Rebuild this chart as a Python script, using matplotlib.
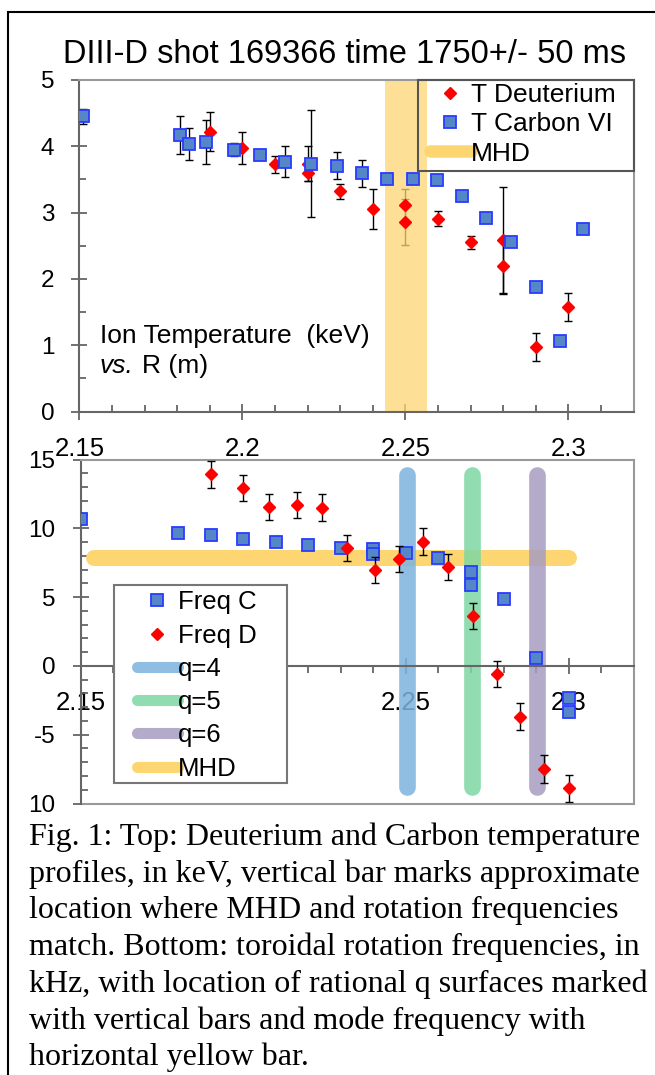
import matplotlib.pyplot as plt
from matplotlib.lines import Line2D
from matplotlib.patches import Rectangle
from matplotlib.ticker import FixedLocator, FixedFormatter

plt.rcParams['font.family'] = ['Liberation Sans', 'DejaVu Sans']

# ---- top panel: ion temperature (keV) vs R (m)
td_r = [2.19, 2.20, 2.21, 2.22, 2.22, 2.23, 2.24, 2.25, 2.25, 2.26, 2.27, 2.28, 2.28, 2.29, 2.30]
td_t = [4.22, 3.98, 3.73, 3.74, 3.59, 3.32, 3.05, 3.11, 2.86, 2.91, 2.55, 2.59, 2.19, 0.97, 1.57]
td_err = [0.29, 0.24, 0.13, 0.26, 0.12, 0.11, 0.30, 0.24, 0.35, 0.11, 0.10, 0.80, 0.42, 0.21, 0.21]

tc_r = [2.151, 2.181, 2.1836, 2.1888, 2.1974, 2.2054, 2.2131, 2.2211, 2.229, 2.2367,
        2.2445, 2.2522, 2.2597, 2.2673, 2.2747, 2.2823, 2.29, 2.2974, 2.3045]
tc_t = [4.45, 4.17, 4.04, 4.07, 3.95, 3.87, 3.77, 3.74, 3.71, 3.59,
        3.51, 3.51, 3.49, 3.25, 2.92, 2.55, 1.88, 1.06, 2.76]
tc_err = [0.12, 0.29, 0.24, 0.33, 0.10, 0.07, 0.24, 0.81, 0.20, 0.20,
          0, 0, 0, 0, 0, 0, 0, 0, 0]

mhd_r = [2.2438, 2.2566]

# ---- bottom panel: rotation frequency (kHz) vs R (m)
fc_r = [2.15, 2.18, 2.19, 2.20, 2.21, 2.22, 2.23, 2.24, 2.24, 2.25, 2.26, 2.27, 2.27, 2.28, 2.29, 2.30, 2.30]
fc_f = [10.67, 9.7, 9.55, 9.24, 9.0, 8.8, 8.56, 8.48, 8.14, 8.19, 7.83, 6.83, 5.86, 4.85, 0.56, -2.35, -3.32]

fd_r = [2.19, 2.20, 2.208, 2.2166, 2.2243, 2.232, 2.2404, 2.2478, 2.2552, 2.263, 2.2706, 2.278, 2.285, 2.2925, 2.30]
fd_f = [13.94, 12.97, 11.59, 11.71, 11.52, 8.56, 6.98, 7.78, 9.05, 7.22, 3.64, -0.61, -3.68, -7.49, -8.9]
fd_err = [1.0, 0.95, 0.95, 0.95, 0.95, 0.95, 0.95, 0.95, 0.95, 0.95, 0.95, 0.95, 1.0, 1.0, 1.0]

q_labels = ['q=4', 'q=5', 'q=6']
q_r = [2.2504, 2.2704, 2.2902]
q_span = [-8.8, 13.9]
q_colors = ['#7db3dd', '#7ed6a3', '#a79dc2']

mhd_f = 7.85
mhd_span = [2.154, 2.300]
mhd_color = '#fdd672'

x_major = [2.15, 2.2, 2.25, 2.3]
x_labels = ['2.15', '2.2', '2.25', '2.3']
x_minor = [2.16, 2.17, 2.18, 2.19, 2.21, 2.22, 2.23, 2.24, 2.26, 2.27, 2.28, 2.29, 2.31, 2.32]
f_ticks = [-10, -5, 0, 5, 10, 15]
f_labels = ['10', '-5', '0', '5', '10', '15']

caption = [
    "Fig. 1: Top: Deuterium and Carbon temperature",
    "profiles, in keV, vertical bar marks approximate",
    "location where MHD and rotation frequencies",
    "match. Bottom: toroidal rotation frequencies, in",
    "kHz, with location of rational q surfaces marked",
    "with vertical bars and mode frequency with",
    "horizontal yellow bar.",
]

W, H = 655, 1075
fig = plt.figure(figsize=(W / 100, H / 100), dpi=100)


def px_box(l, t, r, b):
    return [l / W, 1 - b / H, (r - l) / W, (b - t) / H]


sq_style = dict(marker='s', ms=8, mfc='#5587c8', mec='#2a3cff', mew=1.3, ls='none')
dm_style = dict(marker='D', ms=6.5, mfc='red', mec='red', ls='none')

# ================= top =================
ax1 = fig.add_axes(px_box(79.4, 80, 633.5, 411.5))
ax1.axvspan(mhd_r[0], mhd_r[1], color=mhd_color, alpha=0.75, lw=0, zorder=1.6)
ax1.errorbar(td_r, td_t, yerr=td_err, fmt='none', ecolor='black', elinewidth=1, capsize=3, zorder=1.2)
ax1.errorbar(tc_r, tc_t, yerr=tc_err, fmt='none', ecolor='black', elinewidth=1, capsize=3, zorder=1.2)
ax1.plot(td_r, td_t, zorder=3, **dm_style)
ax1.plot(tc_r, tc_t, zorder=3.5, **sq_style)

ax1.set_xlim(2.15, 2.32)
ax1.set_ylim(0, 5)
ax1.xaxis.set_major_locator(FixedLocator(x_major))
ax1.xaxis.set_major_formatter(FixedFormatter(x_labels))
ax1.xaxis.set_minor_locator(FixedLocator(x_minor))
ax1.yaxis.set_major_locator(FixedLocator([0, 1, 2, 3, 4, 5]))
ax1.yaxis.set_minor_locator(FixedLocator([0.5, 1.5, 2.5, 3.5, 4.5]))
ax1.tick_params(which='major', direction='inout', length=12, width=1.3, color='#666666', pad=12)
ax1.tick_params(axis='x', labelsize=18.5)
ax1.tick_params(axis='y', labelsize=17.5)
ax1.tick_params(which='minor', direction='in', length=5, width=1.3, color='#666666')
for side, sp in ax1.spines.items():
    sp.set_linewidth(1.5)
    sp.set_color('#666666' if side in ('left', 'bottom') else '#999999')

# top legend: own box (no fill, the MHD band shows through), entries placed inside it
ax1.add_patch(Rectangle(((418 - 79.4) / 554.1, (411.5 - 171) / 331.5), (633.5 - 418) / 554.1,
                        91 / 331.5, transform=ax1.transAxes, facecolor='none',
                        edgecolor='#555555', lw=1.5, zorder=5, clip_on=False))
leg1_handles = [
    Line2D([], [], **dm_style),
    Line2D([], [], **sq_style),
    Line2D([], [], color=mhd_color, lw=9, solid_capstyle='round'),
]
leg1 = ax1.legend(leg1_handles, ['T Deuterium', 'T Carbon VI', 'MHD'],
                  loc='upper left', bbox_to_anchor=((430 - 79.4) / 554.1, (411.5 - 83) / 331.5),
                  borderaxespad=0, borderpad=0, frameon=False, fontsize=19,
                  handlelength=1.55, handletextpad=0.0, labelspacing=0.2)
leg1.set_zorder(6)

fig.text(100 / W, 1 - 343 / H, 'Ion Temperature  (keV)', fontsize=19, va='baseline')
fig.text(100 / W, 1 - 373 / H, 'vs.', fontsize=19, style='italic', va='baseline')
fig.text(142 / W, 1 - 373 / H, 'R (m)', fontsize=19, va='baseline')

fig.text(0.526, 1 - 63 / H, 'DIII-D shot 169366 time 1750+/- 50 ms', fontsize=23.5,
         ha='center', va='baseline')

# ================= bottom =================
ax2 = fig.add_axes(px_box(80.6, 459.7, 633.7, 803.5))
ax2.set_zorder(1)
ax2.plot(mhd_span, [mhd_f, mhd_f], color=mhd_color, lw=11.5, solid_capstyle='round', zorder=1.6)
for r, c in zip(q_r, q_colors):
    ax2.plot([r, r], q_span, color=c, lw=12, solid_capstyle='round', alpha=0.85, zorder=1.8)
ax2.plot(fc_r, fc_f, zorder=3, **sq_style)
ax2.errorbar(fd_r, fd_f, yerr=fd_err, fmt='none', ecolor='black', elinewidth=1, capsize=3, zorder=3.2)
ax2.plot(fd_r, fd_f, zorder=3.5, **dm_style)

ax2.set_xlim(2.15, 2.32)
ax2.set_ylim(-10, 15)
ax2.xaxis.set_major_locator(FixedLocator(x_major))
ax2.xaxis.set_major_formatter(FixedFormatter(x_labels))
ax2.xaxis.set_minor_locator(FixedLocator(x_minor))
ax2.yaxis.set_major_locator(FixedLocator(f_ticks))
ax2.yaxis.set_major_formatter(FixedFormatter(f_labels))
ax2.yaxis.set_minor_locator(FixedLocator([v for v in range(-9, 15) if v % 5]))
ax2.tick_params(which='major', direction='inout', length=12, width=1.3, color='#666666', pad=12)
ax2.tick_params(axis='x', labelsize=18.5)
ax2.tick_params(axis='y', labelsize=17.5)
ax2.tick_params(axis='x', which='minor', direction='out', length=5, width=1.3, color='#666666')
ax2.tick_params(axis='y', which='minor', direction='in', length=5, width=1.3, color='#666666')
ax2.spines['bottom'].set_position(('data', 0))
for side, sp in ax2.spines.items():
    sp.set_linewidth(1.5)
    sp.set_color('#666666' if side in ('left', 'bottom') else '#999999')
ax2.axhline(-10, color='#999999', lw=1.5, clip_on=False, zorder=2.4)

# legend box (white, covers the zero line and the 2.2 label)
ax2.add_patch(Rectangle((0.0604, 0.0588), 0.3133, 0.5777, transform=ax2.transAxes,
                        facecolor='white', edgecolor='#777777', lw=1.5, zorder=5, clip_on=False))
leg2_handles = [Line2D([], [], **sq_style), Line2D([], [], **dm_style)]
leg2_handles += [Line2D([], [], color=c, lw=8, solid_capstyle='round', alpha=0.85) for c in q_colors]
leg2_handles.append(Line2D([], [], color=mhd_color, lw=8, solid_capstyle='round'))
leg2 = ax2.legend(leg2_handles, ['Freq C', 'Freq D'] + q_labels + ['MHD'],
                  loc='upper left', bbox_to_anchor=(0.1014, 0.62), borderaxespad=0, borderpad=0,
                  frameon=False, fontsize=18.5, handlelength=1.6, handletextpad=0.0,
                  labelspacing=0.36)
leg2.set_zorder(6)

# ================= caption and frame =================
for i, line in enumerate(caption):
    fig.text(29 / W, 1 - (845 + i * 36.7) / H, line, fontsize=23, va='baseline',
             family=['Liberation Serif', 'DejaVu Serif'])

fig.patches.append(Rectangle((8 / W, -0.01), 1.0, 1 - 12 / H + 0.01, transform=fig.transFigure,
                             fill=False, edgecolor='black', lw=1.5))

fig.savefig('out.png', dpi=100)
